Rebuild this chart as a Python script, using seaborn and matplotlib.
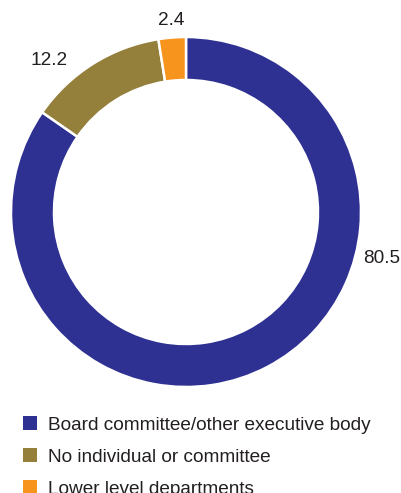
import matplotlib
matplotlib.use("Agg")
import matplotlib.pyplot as plt
import numpy as np
import seaborn as sns

# Who holds responsibility (share of respondents, %)
categories = ["Board committee/other executive body",
              "No individual or committee",
              "Lower level departments"]
values = [80.5, 12.2, 2.4]
value_labels = ["80.5", "12.2", "2.4"]
colors = ["#2E3192", "#94803B", "#F7941D"]

sns.set_theme(style="white")
plt.rcParams["font.family"] = ["Liberation Sans", "DejaVu Sans"]

W, H, DPI = 401, 493, 100
fig = plt.figure(figsize=(W / DPI, H / DPI), dpi=DPI)

# donut centre and outer radius in pixels
cx, cy, R = 186, 212, 175
ax = fig.add_axes([(cx - R) / W, (H - cy - R) / H, 2 * R / W, 2 * R / H])

ring = 43 / R
wedges, _ = ax.pie(values, colors=colors, startangle=90, counterclock=False,
                   radius=1.0,
                   wedgeprops=dict(width=ring, edgecolor="white", linewidth=1.8))
ax.set_xlim(-1, 1)
ax.set_ylim(-1, 1)
ax.set_aspect("equal")
ax.axis("off")

# value labels placed outside the ring (radius, angle in degrees)
label_pos = [(1.15, -13.3), (1.17, 132.1), (1.10, 94.3)]
for (r, a), txt in zip(label_pos, value_labels):
    ax.text(r * np.cos(np.radians(a)), r * np.sin(np.radians(a)), txt,
            ha="center", va="center", fontsize=13.7, color="#231F20",
            clip_on=False)

leg = fig.legend(wedges, categories, loc="upper left",
                 bbox_to_anchor=(23 / W, 1 - 416 / H),
                 frameon=False, fontsize=13.7, handlelength=0.75,
                 handleheight=0.75, handletextpad=0.58, labelspacing=0.76,
                 borderpad=0, borderaxespad=0)
for t in leg.get_texts():
    t.set_color("#231F20")
for h in leg.legend_handles:
    h.set_edgecolor("none")

fig.savefig("out.png", dpi=DPI)
